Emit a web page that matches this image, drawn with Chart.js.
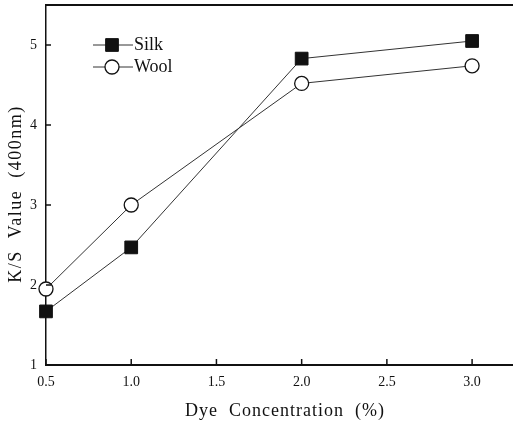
<!DOCTYPE html>
<html>
<head>
<meta charset="utf-8">
<script src="https://cdn.jsdelivr.net/npm/chart.js@4/dist/chart.umd.min.js"></script>
<style>
  html, body { margin: 0; padding: 0; background: #fff; }
  #wrap { width: 513px; height: 424px; }
</style>
</head>
<body>
<div id="wrap"><canvas id="c" width="513" height="424"></canvas></div>
<script>
// ---- data ----
const concentrations = [0.5, 1.0, 2.0, 3.0];
const silkValues = [1.67, 2.47, 4.83, 5.05];
const woolValues = [1.95, 3.00, 4.52, 4.74];
const xTickValues = [0.5, 1.0, 1.5, 2.0, 2.5, 3.0];
const yTickValues = [1, 2, 3, 4, 5];
const seriesNames = ['Silk', 'Wool'];
const xTitle = '\u00a0\u00a0Dye  Concentration  (%)';
const yTitle = 'K/S  Value  (400nm)\u00a0\u00a0\u00a0';

const SERIF = '"Liberation Serif", "DejaVu Serif", serif';

function pts(xs, ys) { return xs.map((x, i) => ({ x: x, y: ys[i] })); }

function spacedTitle(scale, spacing) {
  const proto = Object.getPrototypeOf(scale);
  scale.drawTitle = function () {
    const ctx = this.ctx;
    ctx.save();
    try { ctx.letterSpacing = spacing; } catch (e) {}
    proto.drawTitle.call(this);
    ctx.restore();
  };
}

const framePlugin = {
  id: 'frame',
  afterDatasetsDraw(chart) {
    const { ctx, chartArea: a, scales } = chart;
    const ds = chart.data.datasets;
    ctx.save();
    ctx.strokeStyle = '#111';
    // top border
    ctx.lineWidth = 2;
    ctx.beginPath(); ctx.moveTo(a.left, a.top); ctx.lineTo(a.right, a.top); ctx.stroke();
    // inward ticks
    ctx.lineWidth = 1.5;
    xTickValues.forEach(v => {
      const px = scales.x.getPixelForValue(v);
      ctx.beginPath(); ctx.moveTo(px, a.bottom); ctx.lineTo(px, a.bottom - 6); ctx.stroke();
    });
    yTickValues.forEach(v => {
      const py = scales.y.getPixelForValue(v);
      ctx.beginPath(); ctx.moveTo(a.left, py); ctx.lineTo(a.left + 5, py); ctx.stroke();
    });
    // legend
    const lx0 = a.left + 47, lx1 = a.left + 87, mx = a.left + 66;
    const rows = [45, 67];
    ds.forEach((d, i) => {
      const y = rows[i];
      ctx.strokeStyle = d.borderColor; ctx.lineWidth = 1;
      ctx.beginPath(); ctx.moveTo(lx0, y); ctx.lineTo(lx1, y); ctx.stroke();
      ctx.save();
      ctx.fillStyle = d.pointBackgroundColor;
      ctx.strokeStyle = d.pointBorderColor;
      ctx.lineWidth = d.pointBorderWidth;
      Chart.helpers.drawPoint(ctx, { pointStyle: d.pointStyle, radius: d.pointRadius, borderWidth: d.pointBorderWidth }, mx, y);
      ctx.restore();
      ctx.fillStyle = '#111';
      ctx.font = '18px ' + SERIF;
      ctx.textBaseline = 'middle';
      ctx.textAlign = 'left';
      ctx.fillText(seriesNames[i], lx1 + 1, y);
    });
    ctx.restore();
  }
};

new Chart(document.getElementById('c'), {
  type: 'line',
  data: {
    datasets: [
      {
        label: seriesNames[0],
        data: pts(concentrations, silkValues),
        borderColor: '#333',
        borderWidth: 1,
        pointStyle: 'rect',
        pointRadius: 9,
        pointBackgroundColor: '#111',
        pointBorderColor: '#111',
        pointBorderWidth: 1,
        tension: 0,
        fill: false,
        clip: false
      },
      {
        label: seriesNames[1],
        data: pts(concentrations, woolValues),
        borderColor: '#333',
        borderWidth: 1,
        pointStyle: 'circle',
        pointRadius: 7,
        pointBackgroundColor: '#fff',
        pointBorderColor: '#111',
        pointBorderWidth: 1.3,
        tension: 0,
        fill: false,
        clip: false
      }
    ]
  },
  options: {
    responsive: false,
    animation: false,
    devicePixelRatio: 1,
    layout: { autoPadding: false, padding: { top: 5, right: 0, left: 0, bottom: 0 } },
    plugins: { legend: { display: false }, tooltip: { enabled: false } },
    scales: {
      x: {
        type: 'linear',
        min: 0.5,
        max: 3.24,
        afterBuildTicks(scale) { scale.ticks = xTickValues.map(v => ({ value: v })); },
        afterFit(scale) {
          scale.height = 59;
          scale.paddingLeft = 0; scale.paddingRight = 0;
          spacedTitle(scale, '1px');
        },
        grid: { display: false, drawTicks: false },
        border: { display: true, color: '#111', width: 2 },
        ticks: {
          padding: 9,
          color: '#111',
          font: { family: SERIF, size: 14 },
          maxRotation: 0,
          autoSkip: false,
          callback: v => Number(v).toFixed(1)
        },
        title: {
          display: true,
          text: xTitle,
          color: '#111',
          font: { family: SERIF, size: 18 },
          padding: { top: 0, bottom: 2 }
        }
      },
      y: {
        type: 'linear',
        min: 1,
        max: 5.5,
        afterBuildTicks(scale) { scale.ticks = yTickValues.map(v => ({ value: v })); },
        afterFit(scale) {
          scale.width = 46;
          scale.paddingTop = 0; scale.paddingBottom = 0;
          spacedTitle(scale, '1.5px');
        },
        grid: { display: false, drawTicks: false },
        border: { display: true, color: '#111', width: 1.5 },
        ticks: {
          padding: 9,
          color: '#111',
          font: { family: SERIF, size: 14 },
          callback: v => String(v)
        },
        title: {
          display: true,
          text: yTitle,
          color: '#111',
          font: { family: SERIF, size: 18 },
          padding: { top: 5, bottom: 0 }
        }
      }
    }
  },
  plugins: [framePlugin]
});
</script>
</body>
</html>
